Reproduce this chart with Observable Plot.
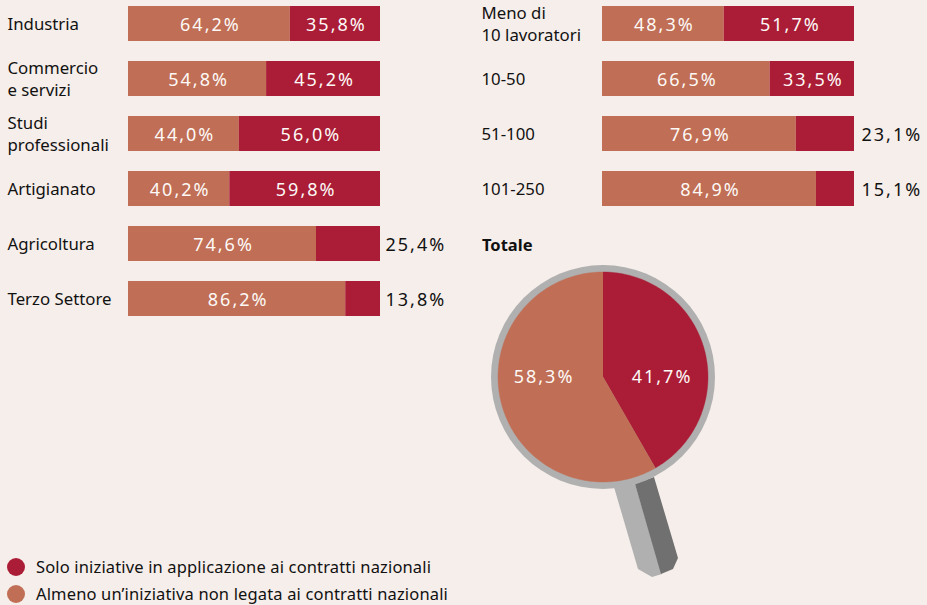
<!DOCTYPE html>
<html lang="it">
<head>
<meta charset="utf-8">
<script src="https://cdn.jsdelivr.net/npm/d3@7"></script>
<script src="https://cdn.jsdelivr.net/npm/@observablehq/plot@0.6"></script>
<style>
  html, body { margin: 0; padding: 0; background: #f6eeea; }
  #page { position: relative; width: 927px; height: 605px; overflow: hidden; background: #f6eeea;
          font-family: "Noto Sans", sans-serif; color: #111; }
  #page > div { position: absolute; }
  #page svg { display: block; background: transparent; }
  #page .value text, #page text.value { letter-spacing: 2px; }
  .lg { left: 7px; font-size: 16.5px; display: flex; align-items: center; line-height: 18px; white-space: nowrap; letter-spacing: 0.15px; }
  .lg i { display: inline-block; width: 18px; height: 18px; border-radius: 50%; margin-right: 11px; }
</style>
</head>
<body>
<div id="page"></div>
<script>
const sectors = ["Industria", "Commercio\ne servizi", "Studi\nprofessionali", "Artigianato", "Agricoltura", "Terzo Settore"];
const sectorOther = [64.2, 54.8, 44.0, 40.2, 74.6, 86.2];
const sectorOnly = [35.8, 45.2, 56.0, 59.8, 25.4, 13.8];

const sizes = ["Meno di\n10 lavoratori", "10-50", "51-100", "101-250"];
const sizeOther = [48.3, 66.5, 76.9, 84.9];
const sizeOnly = [51.7, 33.5, 23.1, 15.1];

const totalOnly = 41.7;
const totalOther = 58.3;

const legendLabels = ["Solo iniziative in applicazione ai contratti nazionali", "Almeno un’iniziativa non legata ai contratti nazionali"];
const RED = "#ab1d36", TERRA = "#c06e55", BG = "#f6eeea", LIGHT = "#fdf9f6", INK = "#111111", GREY = "#b0b0b0", DARK = "#707070";

// Handle outline of the magnifier, in the pie plot's units
const handleLight = [[11, 110], [32, 107], [59, 197], [49, 200], [35, 192]];
const handleDark = [[32, 107], [51, 100], [75, 181], [70, 192], [58, 197]];

const fmt = v => v.toFixed(1).replace(".", ",") + "%";
const FONT = '"Noto Sans", sans-serif';
const page = document.getElementById("page");

function place(node, left, top) {
  const d = document.createElement("div");
  d.style.left = left + "px";
  d.style.top = top + "px";
  d.appendChild(node);
  page.appendChild(d);
}

function barPanel(cats, other, only, width, outDx) {
  const rows = cats.flatMap((c, i) => [
    {cat: c, s: "other", x1: 0, x2: other[i], v: other[i]},
    {cat: c, s: "only", x1: other[i], x2: 100, v: only[i]}
  ]);
  const inside = rows.filter(d => d.v >= 30);
  const outside = rows.filter(d => d.v < 30);
  return Plot.plot({
    width, height: 12 + cats.length * 55, margin: 0,
    className: "chart",
    style: {background: "transparent", fontFamily: FONT},
    x: {domain: [0, 100], range: [128, 380], axis: null},
    y: {type: "band", domain: cats, range: [6, 6 + cats.length * 55 - 20], paddingInner: 20 / 55, paddingOuter: 0, round: false, axis: null},
    color: {domain: ["only", "other"], range: [RED, TERRA]},
    marks: [
      Plot.barX(rows, {x1: "x1", x2: "x2", y: "cat", fill: "s"}),
      Plot.text(inside, {x: d => (d.x1 + d.x2) / 2, y: "cat", text: d => fmt(d.v), fill: LIGHT, fontSize: 18, dx: 1, dy: 1.5, className: "value"}),
      Plot.text(outside, {x: () => 100, y: "cat", text: d => fmt(d.v), fill: INK, fontSize: 18, textAnchor: "start", dx: outDx, dy: 1.5, className: "value"}),
      Plot.text(cats, {x: () => 0, y: d => d, text: d => d, fill: INK, fontSize: 16.8, textAnchor: "start", dx: -121, dy: -1.5, lineHeight: 1.31})
    ]
  });
}

place(barPanel(sectors, sectorOther, sectorOnly, 460, 5), 0, 0);
place(barPanel(sizes, sizeOther, sizeOnly, 453, 7), 474, 0);

// Pie slices as polygons computed from the two shares
function slice(from, to, fill) {
  const n = Math.max(2, Math.round((to - from) * 4));
  const pts = [{px: 0, py: 0, fill}];
  for (let i = 0; i <= n; i++) {
    const a = (from + (to - from) * i / n) / 100 * 2 * Math.PI;
    pts.push({px: 105 * Math.sin(a), py: -105 * Math.cos(a), fill});
  }
  return pts;
}
const poly = (pts, fill) => Plot.line(pts, {x: d => d[0], y: d => d[1], z: () => fill, fill, stroke: null});

const pie = Plot.plot({
  width: 240, height: 345, margin: 0,
  style: {background: "transparent", fontFamily: FONT},
  x: {domain: [-122.5, 117.5], range: [0, 240], axis: null},
  y: {domain: [-126.5, 218.5], range: [0, 345], axis: null},
  marks: [
    poly(handleLight, GREY),
    poly(handleDark, DARK),
    Plot.dot([0], {x: () => 0, y: () => 0, r: 112, fill: GREY, stroke: null}),
    Plot.line(slice(0, totalOnly, RED), {x: "px", y: "py", fill: RED, stroke: RED, strokeWidth: 0.4}),
    Plot.line(slice(totalOnly, 100, TERRA), {x: "px", y: "py", fill: TERRA, stroke: TERRA, strokeWidth: 0.4}),
    Plot.text([totalOnly], {x: () => 59, y: () => 0, text: fmt, fill: LIGHT, fontSize: 18, className: "value"}),
    Plot.text([totalOther], {x: () => -59, y: () => 0, text: fmt, fill: LIGHT, fontSize: 18, className: "value"})
  ]
});
place(pie, 480, 250);

const tot = document.createElement("div");
tot.textContent = "Totale";
tot.style.cssText = "left:482px;top:234px;font-size:16.5px;font-weight:700;line-height:22px;color:#111";
page.appendChild(tot);

legendLabels.forEach((t, i) => {
  const d = document.createElement("div");
  d.className = "lg";
  d.style.top = (558 + i * 27) + "px";
  const dot = document.createElement("i");
  dot.style.background = i ? TERRA : RED;
  d.appendChild(dot);
  d.appendChild(document.createTextNode(t));
  page.appendChild(d);
});
</script>
</body>
</html>
